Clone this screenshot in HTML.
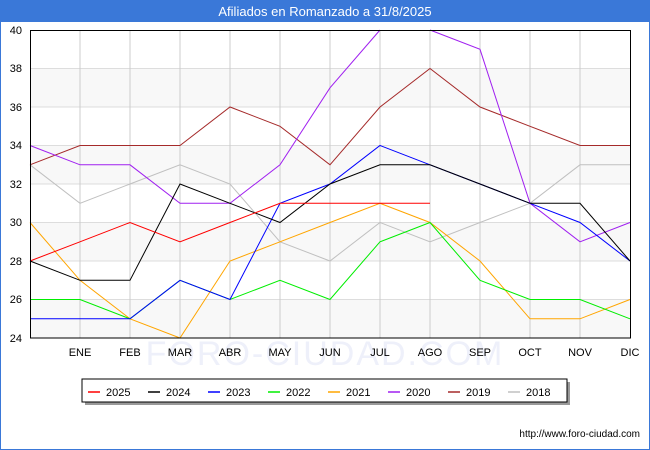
<!DOCTYPE html>
<html><head><meta charset="utf-8"><style>
body{margin:0;background:#fff;}
svg{display:block;font-family:"Liberation Sans","DejaVu Sans",sans-serif;}
</style></head><body>
<svg width="650" height="450" viewBox="0 0 650 450" xmlns="http://www.w3.org/2000/svg">
<rect x="0" y="0" width="650" height="450" fill="#fff"/>
<rect x="0.5" y="0.5" width="649" height="449" fill="none" stroke="#3a78d8" stroke-width="1"/>
<rect x="0" y="0" width="650" height="22" fill="#3a78d8"/>
<text x="325" y="16" text-anchor="middle" fill="#fff" font-size="13">Afiliados en Romanzado a 31/8/2025</text>
<g fill="#f8f8f8">
<rect x="30" y="68.5" width="600" height="38.5"/>
<rect x="30" y="145.5" width="600" height="38.5"/>
<rect x="30" y="222.5" width="600" height="38.5"/>
<rect x="30" y="299.5" width="600" height="38.5"/>
</g>
<g stroke="#dddddd" stroke-width="1">
<line x1="30" x2="630" y1="68.5" y2="68.5"/><line x1="30" x2="630" y1="107" y2="107"/>
<line x1="30" x2="630" y1="145.5" y2="145.5"/><line x1="30" x2="630" y1="184" y2="184"/>
<line x1="30" x2="630" y1="222.5" y2="222.5"/><line x1="30" x2="630" y1="261" y2="261"/>
<line x1="30" x2="630" y1="299.5" y2="299.5"/>
</g>
<g stroke="#cccccc" stroke-width="1">
<line x1="80" x2="80" y1="30" y2="338"/><line x1="130" x2="130" y1="30" y2="338"/>
<line x1="180" x2="180" y1="30" y2="338"/><line x1="230" x2="230" y1="30" y2="338"/>
<line x1="280" x2="280" y1="30" y2="338"/><line x1="330" x2="330" y1="30" y2="338"/>
<line x1="380" x2="380" y1="30" y2="338"/><line x1="430" x2="430" y1="30" y2="338"/>
<line x1="480" x2="480" y1="30" y2="338"/><line x1="530" x2="530" y1="30" y2="338"/>
<line x1="580" x2="580" y1="30" y2="338"/>
</g>
<text x="325" y="365" text-anchor="middle" font-size="34" fill="#eef0fa" letter-spacing="2">FORO-CIUDAD.COM</text>
<g fill="none" stroke-width="1">
<polyline stroke="#c0c0c0" points="30,164.8 80,203.3 130,184 180,164.8 230,184 280,241.8 330,261 380,222.5 430,241.8 480,222.5 530,203.3 580,164.8 630,164.8"/>
<polyline stroke="#a52a2a" points="30,164.8 80,145.5 130,145.5 180,145.5 230,107 280,126.3 330,164.8 380,107 430,68.5 480,107 530,126.3 580,145.5 630,145.5"/>
<polyline stroke="#a020f0" points="30,145.5 80,164.8 130,164.8 180,203.3 230,203.3 280,164.8 330,87.8 380,30"/>
<polyline stroke="#a020f0" points="430,30 480,49.3 530,203.3 580,241.8 630,222.5"/>
<polyline stroke="#ffa500" points="30,222.5 80,280.3 130,318.8 180,338 230,261 280,241.8 330,222.5 380,203.3 430,222.5 480,261 530,318.8 580,318.8 630,299.5"/>
<polyline stroke="#00ee00" points="30,299.5 80,299.5 130,318.8 180,280.3 230,299.5 280,280.3 330,299.5 380,241.8 430,222.5 480,280.3 530,299.5 580,299.5 630,318.8"/>
<polyline stroke="#0000ff" points="30,318.8 80,318.8 130,318.8 180,280.3 230,299.5 280,203.3 330,184 380,145.5 430,164.8 480,184 530,203.3 580,222.5 630,261"/>
<polyline stroke="#000000" points="30,261 80,280.3 130,280.3 180,184 230,203.3 280,222.5 330,184 380,164.8 430,164.8 480,184 530,203.3 580,203.3 630,261"/>
<polyline stroke="#ff0000" points="30,261 80,241.8 130,222.5 180,241.8 230,222.5 280,203.3 330,203.3 380,203.3 430,203.3"/>
</g>
<rect x="30.5" y="30.5" width="600" height="307.5" fill="none" stroke="#000" stroke-width="1"/>
<g font-size="11" fill="#000" text-anchor="end">
<text x="22" y="34">40</text><text x="22" y="72">38</text><text x="22" y="111">36</text>
<text x="22" y="149">34</text><text x="22" y="188">32</text><text x="22" y="226">30</text>
<text x="22" y="265">28</text><text x="22" y="303">26</text><text x="22" y="342">24</text>
</g>
<g font-size="11" fill="#000" text-anchor="middle">
<text x="80" y="356">ENE</text><text x="130" y="356">FEB</text><text x="180" y="356">MAR</text>
<text x="230" y="356">ABR</text><text x="280" y="356">MAY</text><text x="330" y="356">JUN</text>
<text x="380" y="356">JUL</text><text x="430" y="356">AGO</text><text x="480" y="356">SEP</text>
<text x="530" y="356">OCT</text><text x="580" y="356">NOV</text><text x="630" y="356">DIC</text>
</g>
<rect x="85" y="382" width="485" height="23" fill="#999"/>
<rect x="82" y="379" width="485" height="23" fill="#fff" stroke="#000" stroke-width="1"/>
<g font-size="11" fill="#000" stroke-width="1.5">
<line x1="88" x2="100" y1="392" y2="392" stroke="#ff0000"/><text x="106" y="396">2025</text>
<line x1="148" x2="160" y1="392" y2="392" stroke="#000"/><text x="166" y="396">2024</text>
<line x1="208" x2="220" y1="392" y2="392" stroke="#0000ff"/><text x="226" y="396">2023</text>
<line x1="268" x2="280" y1="392" y2="392" stroke="#00ee00"/><text x="286" y="396">2022</text>
<line x1="328" x2="340" y1="392" y2="392" stroke="#ffa500"/><text x="346" y="396">2021</text>
<line x1="388" x2="400" y1="392" y2="392" stroke="#a020f0"/><text x="406" y="396">2020</text>
<line x1="448" x2="460" y1="392" y2="392" stroke="#a52a2a"/><text x="466" y="396">2019</text>
<line x1="508" x2="520" y1="392" y2="392" stroke="#c0c0c0"/><text x="526" y="396">2018</text>
</g>
<text x="640" y="437" text-anchor="end" font-size="10" fill="#000">http://www.foro-ciudad.com</text>
</svg>
</body></html>
